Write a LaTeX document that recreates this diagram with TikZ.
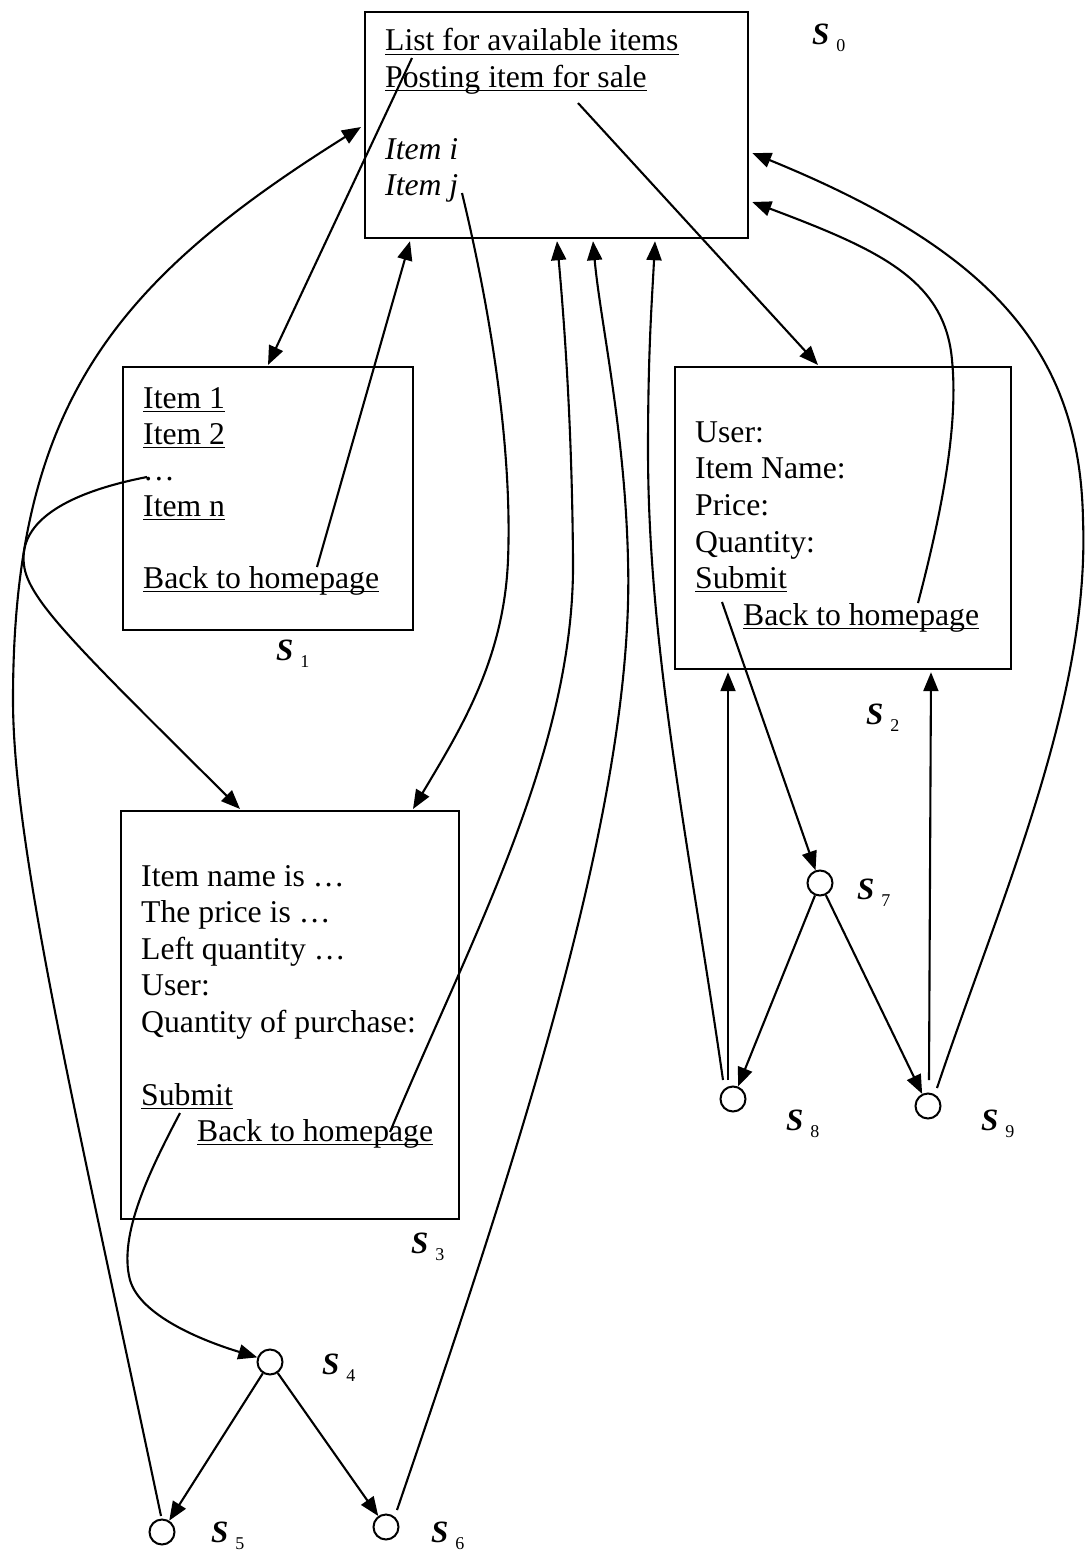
\documentclass[tikz,border=0pt]{standalone}
\usepackage{fontspec}
\setmainfont{Liberation Serif}
\usetikzlibrary{arrows.meta}
\newcommand\statelab[1]{S\hspace{7pt}\raisebox{-7pt}{\fontsize{18}{18}\selectfont\mdseries\upshape #1}}
\newcommand\ulnode[1]{\draw[ul] ([yshift=-3.5pt]#1.base west) -- ([yshift=-3.5pt]#1.base east);}
\begin{document}
\begin{tikzpicture}[x=1pt,y=-1pt,
  box/.style={draw, line width=2.2pt, inner sep=0pt, anchor=north west},
  txt/.style={inner sep=0pt, anchor=base west, font=\fontsize{31.7}{36}\selectfont},
  ul/.style={line width=1.7pt},
  st/.style={draw, circle, line width=2pt, minimum size=25pt, inner sep=0pt},
  conn/.style={line width=2.1pt, -{Triangle[length=19pt,width=15pt]}},
  lab/.style={inner sep=0pt, anchor=base west, font=\fontsize{31}{31}\selectfont\bfseries\itshape}
]
\path[use as bounding box, fill=white] (0,0) rectangle (1085,1555);

% boxes
\node[box, minimum width=383pt, minimum height=226pt] (b0) at (364,11) {};
\node[box, minimum width=290pt, minimum height=263pt] (b1) at (122,366) {};
\node[box, minimum width=336pt, minimum height=302pt] (b2) at (674,366) {};
\node[box, minimum width=338pt, minimum height=408pt] (b3) at (120,810) {};

% S0 text
\node[txt] (t0a) at (385,51) {List for available items};
\node[txt] (t0b) at (385,87) {Posting item for sale};
\node[txt] (t0c) at (385,159) {\itshape Item i};
\node[txt] (t0d) at (385,195) {\itshape Item j};
\ulnode{t0a}\ulnode{t0b}

% S1 text
\node[txt] (t1a) at (143,408) {Item 1};
\node[txt] (t1b) at (143,444) {Item 2};
\node[txt] (t1c) at (143,480) {…};
\node[txt] (t1d) at (143,516) {Item n};
\node[txt] (t1e) at (143,588) {Back to homepage};
\ulnode{t1a}\ulnode{t1b}\ulnode{t1d}\ulnode{t1e}

% S2 text
\node[txt] (t2a) at (695,442) {User:};
\node[txt] (t2b) at (695,478) {Item Name:};
\node[txt] (t2c) at (695,515) {Price:};
\node[txt] (t2d) at (695,552) {Quantity:};
\node[txt] (t2e) at (695,588) {Submit};
\node[txt] (t2f) at (743,625) {Back to homepage};
\ulnode{t2e}\ulnode{t2f}

% S3 text
\node[txt] (t3a) at (141,886) {Item name is …};
\node[txt] (t3b) at (141,922) {The price is …};
\node[txt] (t3c) at (141,959) {Left quantity …};
\node[txt] (t3d) at (141,995) {User:};
\node[txt] (t3e) at (141,1032) {Quantity of purchase:};
\node[txt] (t3f) at (141,1105) {Submit};
\node[txt] (t3g) at (197,1141) {Back to homepage};
\ulnode{t3f}\ulnode{t3g}

% state circles
\node[st] (s4) at (270,1362) {};
\node[st] (s5) at (162,1532) {};
\node[st] (s6) at (386,1527) {};
\node[st] (s7) at (820,883) {};
\node[st] (s8) at (733,1099) {};
\node[st] (s9) at (928,1106) {};

% labels
\node[lab] (l0) at (812,45) {\statelab{0}};
\node[lab] (l1) at (276,660) {\statelab{1}};
\node[lab] (l2) at (866,724) {\statelab{2}};
\node[lab] (l3) at (411,1253) {\statelab{3}};
\node[lab] (l4) at (322,1374) {\statelab{4}};
\node[lab] (l5) at (211,1542) {\statelab{5}};
\node[lab] (l6) at (431,1542) {\statelab{6}};
\node[lab] (l7) at (857,899) {\statelab{7}};
\node[lab] (l8) at (786,1130) {\statelab{8}};
\node[lab] (l9) at (981,1130) {\statelab{9}};

% link start points
\coordinate (p1) at (412,58);
\coordinate (p3) at (317,567);
\coordinate (p4) at (147,477);
\coordinate (p5) at (462,193);
\coordinate (p6) at (578,103);
\coordinate (p7) at (918,603);
\coordinate (p10) at (390,1132);
\coordinate (p12) at (722,602);
\coordinate (p13) at (180,1113);
\coordinate (q5) at (161,1516);
\coordinate (q6) at (397,1510);
\coordinate (q8a) at (723,1080);
\coordinate (q8b) at (728,1080);
\coordinate (q9a) at (929,1080);
\coordinate (q9b) at (937,1088);

% connectors
\draw[conn] (p1) -- ([xshift=146pt,yshift=1pt]b1.north west);
\draw[conn] (p3) -- ([xshift=46pt,yshift=-2pt]b0.south west);
\draw[conn] (p4) .. controls (70,492) and (18,520) .. (24,565)
  .. controls (28,600) and (80,650) .. ([xshift=120pt,yshift=1pt]b3.north west);
\draw[conn] (p5) .. controls (495,330) and (512,460) .. (508,560)
  .. controls (504,660) and (460,730) .. ([xshift=293pt,yshift=1pt]b3.north west);
\draw[conn] (p6) -- ([xshift=144pt,yshift=1pt]b2.north west);
\draw[conn] (p7) .. controls (945,500) and (958,420) .. (952,360)
  .. controls (945,280) and (880,250) .. ([xshift=3pt,yshift=-191pt]b0.north east);
\draw[conn] (q9b) .. controls (1000,900) and (1090,700) .. (1083,520)
  .. controls (1080,350) and (990,250) .. ([xshift=3pt,yshift=-142pt]b0.north east);
\draw[conn] (q5) .. controls (79,1126) and (13,850) .. (13,700)
  .. controls (13,403) and (117,280) .. ([xshift=-3pt,yshift=-116pt]b0.north west);
\draw[conn] (q6) .. controls (520,1150) and (635,800) .. (628,560)
  .. controls (625,430) and (600,320) .. ([xshift=229pt,yshift=-2pt]b0.south west);
\draw[conn] (p10) .. controls (470,940) and (575,750) .. (573,560)
  .. controls (572,430) and (565,330) .. ([xshift=193pt,yshift=-2pt]b0.south west);
\draw[conn] (q8a) .. controls (690,850) and (648,650) .. (648,450)
  .. controls (648,350) and (652,300) .. ([xshift=291pt,yshift=-2pt]b0.south west);
\draw[conn] (q8b) -- ([xshift=54pt,yshift=-2pt]b2.south west);
\draw[conn] (q9a) -- ([xshift=257pt,yshift=-2pt]b2.south west);
\draw[conn] (p12) -- (s7);
\draw[conn] (s7) -- (s8);
\draw[conn] (s7) -- (s9);
\draw[conn] (p13) .. controls (150,1170) and (118,1235) .. (130,1280)
  .. controls (140,1315) and (200,1340) .. (s4.160);
\draw[conn] (s4) -- (s5);
\draw[conn] (s4) -- (s6);
\end{tikzpicture}
\end{document}
